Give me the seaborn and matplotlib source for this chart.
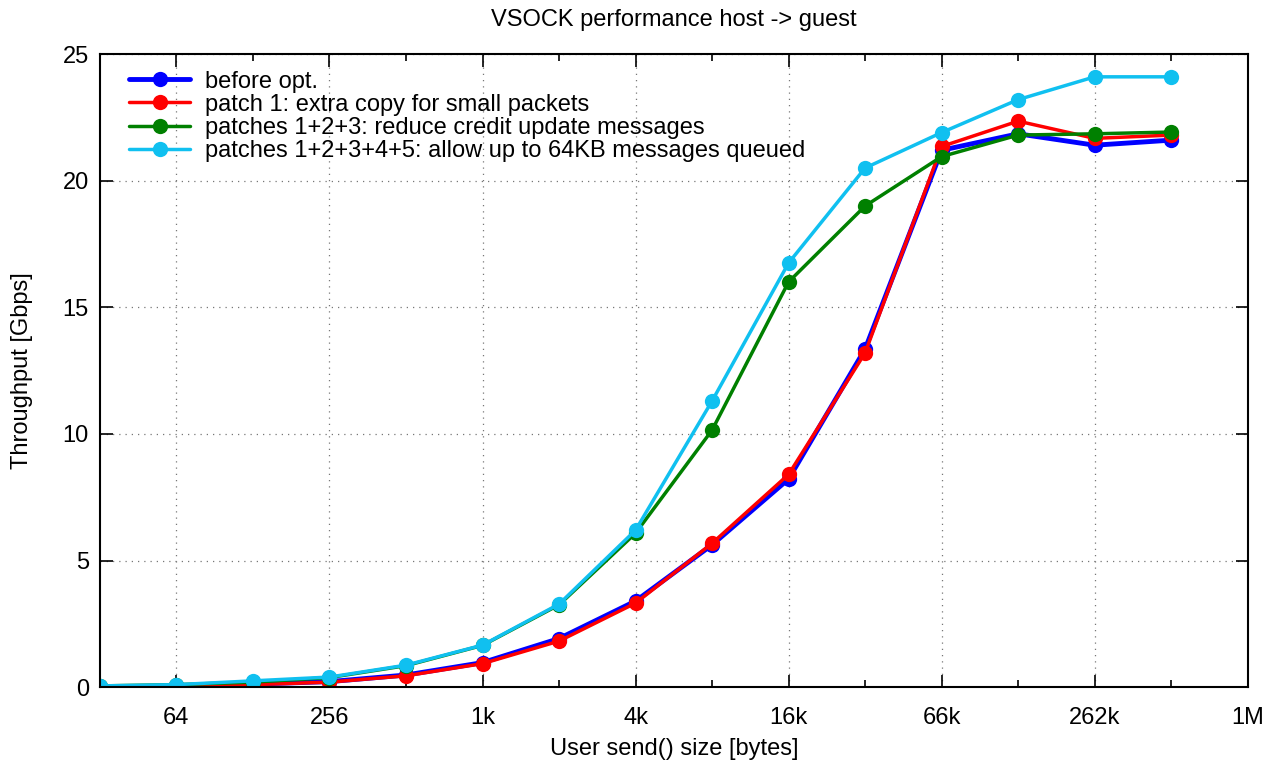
import matplotlib
matplotlib.use("Agg")
import matplotlib.pyplot as plt
import matplotlib.ticker as mticker
import seaborn as sns
import pandas as pd

# Data (throughput in Gbps)
sizes = [32, 64, 128, 256, 512, 1024, 2048, 4096, 8192, 16384,
         32768, 65536, 131072, 262144, 524288]

before_opt = [0.02, 0.03, 0.12, 0.22, 0.48, 0.97, 1.92, 3.40, 5.62, 8.22,
              13.35, 21.20, 21.85, 21.40, 21.60]
patch1 = [0.02, 0.03, 0.10, 0.20, 0.45, 0.93, 1.82, 3.32, 5.68, 8.40,
          13.20, 21.35, 22.35, 21.67, 21.80]
patches123 = [0.05, 0.10, 0.20, 0.38, 0.85, 1.65, 3.25, 6.08, 10.15, 16.00,
              19.00, 20.95, 21.80, 21.85, 21.92]
patches12345 = [0.05, 0.10, 0.25, 0.40, 0.87, 1.66, 3.28, 6.20, 11.30, 16.75,
                20.50, 21.90, 23.20, 24.10, 24.10]

series_names = [
    "before opt.",
    "patch 1: extra copy for small packets",
    "patches 1+2+3: reduce credit update messages",
    "patches 1+2+3+4+5: allow up to 64KB messages queued",
]
series_values = [before_opt, patch1, patches123, patches12345]
colors = ["#0000ff", "#ff0000", "#008000", "#10c0f0"]
widths = [3.5, 2.5, 2.5, 2.5]

major_ticks = [64, 256, 1024, 4096, 16384, 65536, 262144, 1048576]
major_labels = ["64", "256", "1k", "4k", "16k", "66k", "262k", "1M"]
minor_ticks = [128, 512, 2048, 8192, 32768, 131072, 524288]

sns.set_style("ticks", {"axes.edgecolor": "black", "text.color": "black",
                        "axes.labelcolor": "black", "xtick.color": "black",
                        "ytick.color": "black"})
plt.rcParams["font.family"] = ["Liberation Sans", "DejaVu Sans"]
plt.rcParams["font.size"] = 17

fig = plt.figure(figsize=(12.81, 7.61), dpi=100)
ax = fig.add_axes([0.078, 0.097, 0.896, 0.832])

for name, vals, c, lw in zip(series_names, series_values, colors, widths):
    df = pd.DataFrame({"size": sizes, "gbps": vals})
    sns.lineplot(data=df, x="size", y="gbps", ax=ax, color=c, linewidth=lw,
                 marker="o", markersize=11, markeredgewidth=0, label=name)

ax.set_xscale("log", base=2)
ax.set_xlim(32, 1048576)
ax.set_ylim(0, 25)
ax.xaxis.set_major_locator(mticker.FixedLocator(major_ticks))
ax.xaxis.set_major_formatter(mticker.FixedFormatter(major_labels))
ax.xaxis.set_minor_locator(mticker.FixedLocator(minor_ticks))
ax.xaxis.set_minor_formatter(mticker.NullFormatter())
ax.set_yticks([0, 5, 10, 15, 20, 25])

ax.tick_params(which="both", direction="in", top=True, right=True,
               labelsize=17, colors="black")
ax.tick_params(which="major", length=9, width=1.2)
ax.tick_params(which="minor", length=5, width=1.2)
ax.tick_params(axis="x", pad=14)
ax.tick_params(axis="y", pad=8)
for sp in ax.spines.values():
    sp.set_linewidth(1.5)
    sp.set_color("black")

ax.grid(True, which="major", linestyle=(0, (1, 4)), color="#777777", linewidth=0.9)

ax.set_title("VSOCK performance host -> guest", fontsize=17, pad=20, color="black")
ax.set_xlabel("User send() size [bytes]", fontsize=17, labelpad=7, color="black")
ax.set_ylabel("Throughput [Gbps]", fontsize=17, labelpad=21, color="black")

leg = ax.legend(loc="upper left", bbox_to_anchor=(0.011, 1.0), frameon=False,
                fontsize=17, handlelength=2.6, labelspacing=0.05,
                borderaxespad=0.3, handletextpad=0.6)
for h in leg.legend_handles:
    h.set_markeredgewidth(0)

fig.savefig("out.png", dpi=100)
